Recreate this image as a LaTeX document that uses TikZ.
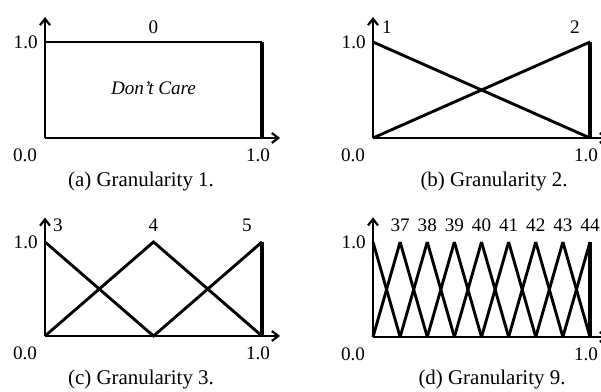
\documentclass[tikz,border=0pt]{standalone}
\usepackage{fontspec}
\setmainfont{Liberation Serif}
\usetikzlibrary{arrows.meta}
\tikzset{
  >={Straight Barb[length=3.2pt,width=5pt,line width=1.1pt]},
  axisln/.style ={->,line width=1.2pt},
  mf/.style     ={line width=1.45pt,line join=miter},
  redge/.style  ={line width=1.8pt},
  ticklbl/.style={font=\fontsize{9.6}{11}\selectfont,inner sep=0pt},
  mlbl/.style   ={font=\fontsize{9.6}{11}\selectfont,inner sep=0pt},
  captxt/.style ={font=\fontsize{10.5}{12}\selectfont,inner sep=0pt},
}
\begin{document}
\begin{tikzpicture}[x=0.5bp,y=0.5bp]
\useasboundingbox (0,0) rectangle (601,392);
% (a) granularity 1
\begin{scope}[shift={(45,254)},x=108.5bp,y=48bp]
  \coordinate (oA) at (0,0);
  \coordinate (xA) at (1.083,0);
  \coordinate (yA) at (0,1.26);
  \draw[mf] (0,1)--(1,1);
  \draw[redge] (1,1)--(1,0);
  \draw[axisln] (oA)--(xA);
  \draw[axisln] (oA)--(yA);
  \node[ticklbl,left=3.5bp] (yA1) at (0,1) {1.0};
  \node[ticklbl,xshift=-10bp,yshift=-8.5bp] (oA0) at (0,0) {0.0};
  \node[ticklbl,xshift=-2bp,yshift=-8.5bp] (xA1) at (1,0) {1.0};
  \node[mlbl] (mA0) at (0.5,1.15) {0};
  \node[mlbl,font=\fontsize{9.6}{11}\selectfont\itshape] (dc) at (0.5,0.52) {Don’t Care};
\end{scope}
% (b) granularity 2
\begin{scope}[shift={(373,254)},x=108.5bp,y=48bp]
  \coordinate (oB) at (0,0);
  \coordinate (xB) at (1.083,0);
  \coordinate (yB) at (0,1.26);
  \draw[mf] (0,1)--(1,0);
  \draw[mf] (0,0)--(1,1);
  \draw[redge] (1,1)--(1,0);
  \draw[axisln] (oB)--(xB);
  \draw[axisln] (oB)--(yB);
  \node[ticklbl,left=3.5bp] (yB1) at (0,1) {1.0};
  \node[ticklbl,xshift=-10bp,yshift=-8.5bp] (oB0) at (0,0) {0.0};
  \node[ticklbl,xshift=-2bp,yshift=-8.5bp] (xB1) at (1,0) {1.0};
  \node[mlbl,xshift=7bp] (mB1) at (0,1.15) {1};
  \node[mlbl,xshift=-7.5bp] (mB2) at (1,1.15) {2};
\end{scope}
% (c) granularity 3
\begin{scope}[shift={(45,56)},x=108.5bp,y=47bp]
  \coordinate (oC) at (0,0);
  \coordinate (xC) at (1.083,0);
  \coordinate (yC) at (0,1.26);
  \draw[mf] (0,1)--(0.5,0)--(1,1);
  \draw[mf] (0,0)--(0.5,1)--(1,0);
  \draw[redge] (1,1)--(1,0);
  \draw[axisln] (oC)--(xC);
  \draw[axisln] (oC)--(yC);
  \node[ticklbl,left=3.5bp] (yC1) at (0,1) {1.0};
  \node[ticklbl,xshift=-10bp,yshift=-8.5bp] (oC0) at (0,0) {0.0};
  \node[ticklbl,xshift=-2bp,yshift=-8.5bp] (xC1) at (1,0) {1.0};
  \node[mlbl,xshift=6.5bp] (mC3) at (0,1.175) {3};
  \node[mlbl] (mC4) at (0.5,1.175) {4};
  \node[mlbl,xshift=-7.5bp] (mC5) at (1,1.175) {5};
\end{scope}
% (d) granularity 9
\begin{scope}[shift={(373,55)},x=108.5bp,y=47.5bp]
  \coordinate (oD) at (0,0);
  \coordinate (xD) at (1.083,0);
  \coordinate (yD) at (0,1.26);
  \foreach \k in {0,...,7}{
    \draw[mf] (\k/8,1)--(\k/8+1/8,0);
    \draw[mf] (\k/8,0)--(\k/8+1/8,1);
  }
  \draw[redge] (1,1)--(1,0);
  \draw[axisln] (oD)--(xD);
  \draw[axisln] (oD)--(yD);
  \node[ticklbl,left=3.5bp] (yD1) at (0,1) {1.0};
  \node[ticklbl,xshift=-10bp,yshift=-8.5bp] (oD0) at (0,0) {0.0};
  \node[ticklbl,xshift=-2bp,yshift=-8.5bp] (xD1) at (1,0) {1.0};
  \foreach \k [evaluate=\k as \n using int(\k+36)] in {1,...,8}
    \node[mlbl] (mD\k) at (\k/8,1.175) {\n};
\end{scope}
% captions
\node[captxt] (capA) at (141,210) {(a) Granularity 1.};
\node[captxt] (capB) at (494,210) {(b) Granularity 2.};
\node[captxt] (capC) at (141,12) {(c) Granularity 3.};
\node[captxt] (capD) at (492,12) {(d) Granularity 9.};
\end{tikzpicture}
\end{document}
